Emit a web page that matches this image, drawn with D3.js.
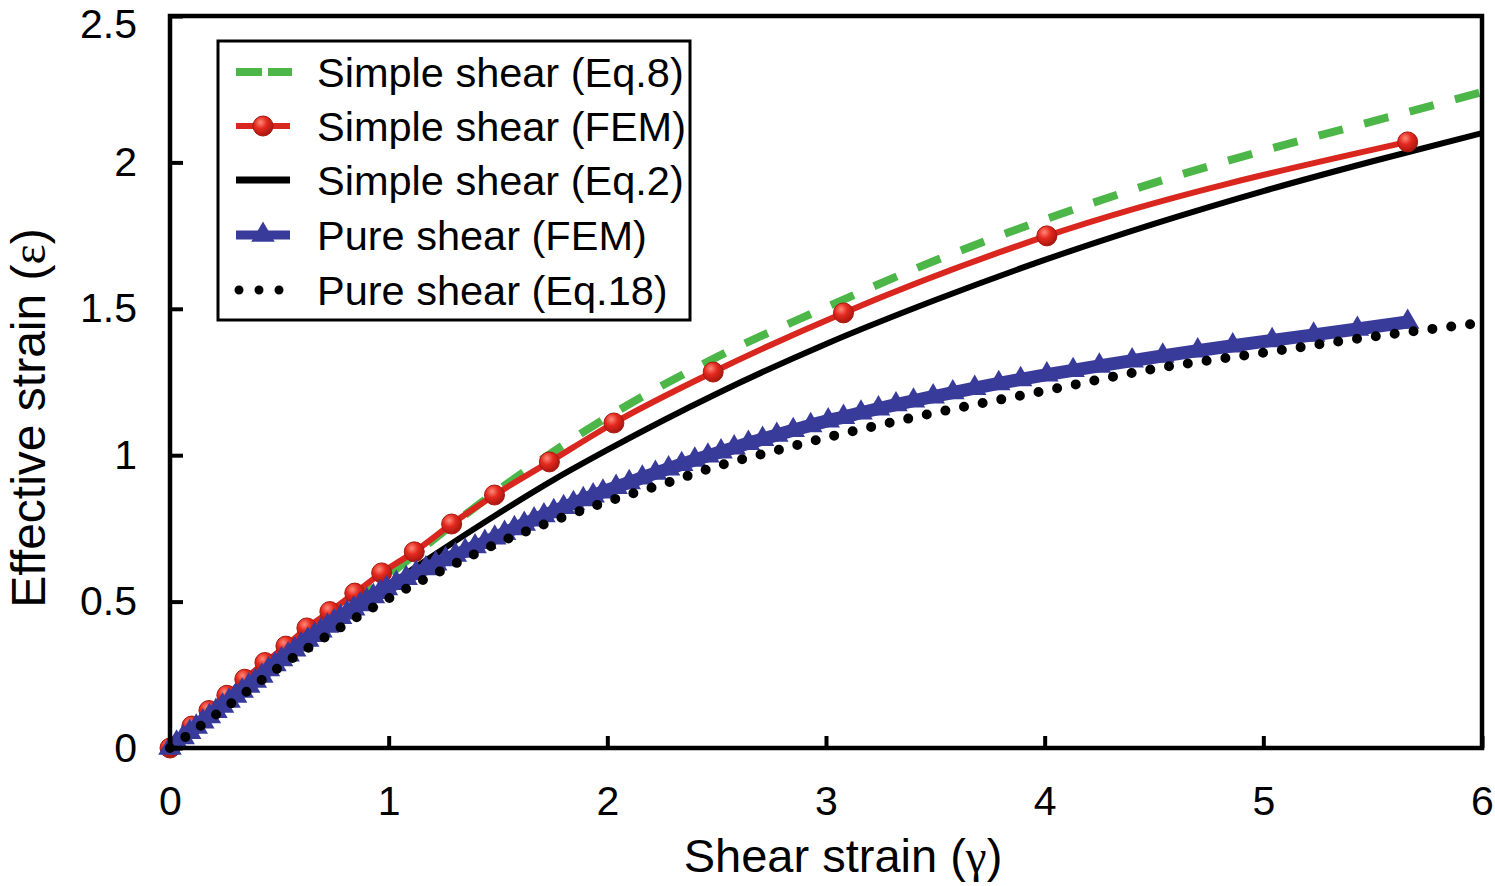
<!DOCTYPE html>
<html>
<head>
<meta charset="utf-8">
<script src="https://cdn.jsdelivr.net/npm/d3@7"></script>
<style>
  body { margin: 0; background: #fff; }
  svg { display: block; font-family: "Liberation Sans", Arial, sans-serif; }
</style>
</head>
<body>
<div id="chart"></div>
<script>
// tick values
const xTicks = [0, 1, 2, 3, 4, 5, 6]
const yTicks = [0, 0.5, 1, 1.5, 2, 2.5]

// Simple shear (Eq.8) - green dashed
const eq8X = [0, 0.5, 1, 1.5, 2, 2.5, 3, 3.5, 4, 4.5, 5, 5.5, 6]
const eq8Y = [0, 0.29, 0.59, 0.88, 1.13, 1.335, 1.505, 1.665, 1.805, 1.93, 2.04, 2.14, 2.24]

// Simple shear (FEM) - red with circles
const femSX = [0, 0.1, 0.178, 0.26, 0.342, 0.434, 0.53, 0.626, 0.731, 0.845, 0.968, 1.117, 1.288, 1.484, 1.735, 2.03, 2.484, 3.08, 4.01, 5.66]
const femSY = [0, 0.075, 0.128, 0.18, 0.235, 0.292, 0.348, 0.41, 0.466, 0.529, 0.598, 0.67, 0.765, 0.864, 0.977, 1.11, 1.284, 1.486, 1.749, 2.07]

// Simple shear (Eq.2) - black solid
const eq2X = [0, 0.25, 0.5, 0.75, 1, 1.25, 1.5, 1.75, 2, 2.5, 3, 3.5, 4, 4.5, 5, 5.5, 6]
const eq2Y = [0, 0.144, 0.286, 0.424, 0.556, 0.68, 0.8, 0.914, 1.018, 1.21, 1.38, 1.53, 1.667, 1.79, 1.902, 2.004, 2.1]

// Pure shear (FEM) - blue with triangles
const femPX = [0, 0.03, 0.06, 0.09, 0.12, 0.15, 0.18, 0.21, 0.24, 0.27, 0.3, 0.33, 0.36, 0.39, 0.42, 0.45, 0.48,
  0.51, 0.54, 0.57, 0.6, 0.63, 0.66, 0.69, 0.72, 0.75, 0.78, 0.81, 0.84, 0.87, 0.9, 0.93, 0.96, 0.99,
  1.035, 1.08, 1.125, 1.17, 1.215, 1.26, 1.305, 1.35, 1.395, 1.44, 1.485, 1.53, 1.575, 1.62, 1.665, 1.71,
  1.755, 1.8, 1.845, 1.89, 1.935, 1.98,
  2.04, 2.1, 2.16, 2.22, 2.28, 2.34, 2.4, 2.46, 2.52, 2.58, 2.645, 2.71, 2.775, 2.85, 2.93, 3.01,
  3.08, 3.16, 3.24, 3.32, 3.4, 3.49, 3.58, 3.68, 3.79, 3.89, 4.01, 4.13, 4.25, 4.4, 4.54, 4.7, 4.86,
  5.04, 5.23, 5.43, 5.66]
const femPY = [0, 0.018, 0.036, 0.054, 0.072, 0.09, 0.108, 0.126, 0.144, 0.161, 0.178, 0.195, 0.212, 0.229, 0.246, 0.268, 0.285,
  0.302, 0.319, 0.336, 0.353, 0.369, 0.385, 0.401, 0.417, 0.432, 0.447, 0.462, 0.476, 0.49, 0.504, 0.518, 0.532, 0.545,
  0.563, 0.58, 0.597, 0.613, 0.629, 0.644, 0.659, 0.673, 0.688, 0.703, 0.718, 0.734, 0.75, 0.765, 0.78, 0.794,
  0.808, 0.822, 0.836, 0.849, 0.862, 0.875,
  0.891, 0.907, 0.923, 0.939, 0.954, 0.969, 0.984, 0.998, 1.012, 1.026, 1.041, 1.055, 1.069, 1.085, 1.102, 1.118,
  1.13, 1.145, 1.159, 1.173, 1.186, 1.2, 1.214, 1.229, 1.245, 1.259, 1.275, 1.29, 1.305, 1.323, 1.339, 1.357, 1.374,
  1.392, 1.411, 1.431, 1.455]

// Pure shear (Eq.18) - black dotted
const eq18X = [0, 0.25, 0.5, 0.75, 1, 1.25, 1.5, 1.75, 2, 2.25, 2.5, 2.75, 3, 3.5, 4, 4.5, 5, 5.5, 6]
const eq18Y = [0, 0.136, 0.276, 0.398, 0.511, 0.609, 0.7, 0.775, 0.842, 0.9, 0.962, 1.012, 1.06, 1.145, 1.22, 1.295, 1.35, 1.405, 1.452]

const legendLabels = ["Simple shear (Eq.8)", "Simple shear (FEM)", "Simple shear (Eq.2)", "Pure shear (FEM)", "Pure shear (Eq.18)"]

const GREEN = "#4cb748", RED = "#d9261e", BLUE = "#393b9b"

const W = 1495, H = 886
const zip = (xs, ys) => xs.map((x, i) => [x, ys[i]])

const x = d3.scaleLinear().domain([0, 6]).range([170, 1482])
const y = d3.scaleLinear().domain([0, 2.5]).range([748, 16])

const svg = d3.select("#chart").append("svg")
  .attr("width", W)
  .attr("height", H)

const defs = svg.append("defs")
const grad = defs.append("radialGradient")
  .attr("id", "ball")
  .attr("cx", "38%").attr("cy", "32%").attr("r", "70%")
grad.append("stop").attr("offset", "0%").attr("stop-color", "#ff8a78")
grad.append("stop").attr("offset", "45%").attr("stop-color", "#e4291f")
grad.append("stop").attr("offset", "100%").attr("stop-color", "#a5150e")

const line = d3.line().x(d => x(d[0])).y(d => y(d[1])).curve(d3.curveMonotoneX)
const plot = svg.append("g")

// green dashed
plot.append("path")
  .datum(zip(eq8X, eq8Y))
  .attr("d", line)
  .attr("fill", "none")
  .attr("stroke", GREEN)
  .attr("stroke-width", 8)
  .attr("stroke-dasharray", "25 22")

// black solid
plot.append("path")
  .datum(zip(eq2X, eq2Y))
  .attr("d", line)
  .attr("fill", "none")
  .attr("stroke", "#000")
  .attr("stroke-width", 6)

// red FEM
const femS = zip(femSX, femSY)
plot.append("path")
  .datum(femS)
  .attr("d", line)
  .attr("fill", "none")
  .attr("stroke", RED)
  .attr("stroke-width", 6)

plot.selectAll(".ball")
  .data(femS)
  .enter()
  .append("circle")
  .attr("class", "ball")
  .attr("cx", d => x(d[0]))
  .attr("cy", d => y(d[1]))
  .attr("r", 10)
  .attr("fill", "url(#ball)")
  .attr("stroke", "#a8180f")
  .attr("stroke-width", 1)

// blue FEM
const femP = zip(femPX, femPY)
plot.append("path")
  .datum(femP)
  .attr("d", line)
  .attr("fill", "none")
  .attr("stroke", BLUE)
  .attr("stroke-width", 13)

const tri = d3.symbol(d3.symbolTriangle, 240)
plot.selectAll(".tri")
  .data(femP)
  .enter()
  .append("path")
  .attr("class", "tri")
  .attr("d", tri)
  .attr("transform", d => `translate(${x(d[0])},${y(d[1])})`)
  .attr("fill", BLUE)

// dotted
plot.append("path")
  .datum(zip(eq18X, eq18Y))
  .attr("d", line)
  .attr("fill", "none")
  .attr("stroke", "#000")
  .attr("stroke-width", 10)
  .attr("stroke-linecap", "round")
  .attr("stroke-dasharray", "0 19")

// frame
svg.append("rect")
  .attr("x", x(0)).attr("y", y(2.5))
  .attr("width", x(6) - x(0))
  .attr("height", y(0) - y(2.5))
  .attr("fill", "none")
  .attr("stroke", "#000")
  .attr("stroke-width", 4.5)

// axes, ticks pointing inward
const xAxis = svg.append("g")
  .attr("transform", `translate(0,${y(0)})`)
  .call(d3.axisBottom(x).tickValues(xTicks).tickFormat(d3.format("d"))
    .tickSizeInner(-12).tickSizeOuter(0).tickPadding(38))
const yAxis = svg.append("g")
  .attr("transform", `translate(${x(0)},0)`)
  .call(d3.axisLeft(y).tickValues(yTicks).tickFormat(d => String(d))
    .tickSizeInner(-13).tickSizeOuter(0).tickPadding(33))

for (const ax of [xAxis, yAxis]) {
  ax.select(".domain").remove()
  ax.selectAll(".tick line").attr("stroke", "#000").attr("stroke-width", 4)
  ax.selectAll(".tick text")
    .attr("fill", "#000")
    .style("font-size", "41px")
    .style("font-family", "'Liberation Sans', Arial, sans-serif")
}
// top label sits a little lower so it stays inside the page
yAxis.selectAll(".tick text").filter(d => d === 2.5).attr("dy", "0.52em")

// axis titles, greek letters in a serif face
const xTitle = svg.append("text")
  .attr("x", 843)
  .attr("y", 872)
  .attr("text-anchor", "middle")
  .style("font-size", "47px")
xTitle.append("tspan").text("Shear strain (")
xTitle.append("tspan").style("font-family", "'Liberation Serif', serif").text("γ")
xTitle.append("tspan").text(")")

const yTitle = svg.append("text")
  .attr("transform", "rotate(-90)")
  .attr("x", -418)
  .attr("y", 45)
  .attr("text-anchor", "middle")
  .style("font-size", "48px")
yTitle.append("tspan").text("Effective strain (")
yTitle.append("tspan").style("font-family", "'Liberation Serif', serif").text("ε")
yTitle.append("tspan").text(")")

// legend
const lg = svg.append("g")
lg.append("rect")
  .attr("x", 218).attr("y", 41)
  .attr("width", 472).attr("height", 279)
  .attr("fill", "#fff")
  .attr("stroke", "#000")
  .attr("stroke-width", 3)

const rowY = [72, 126, 180, 235, 290]
const sx0 = 236, sx1 = 292, smid = 264

lg.selectAll(".lab")
  .data(legendLabels)
  .enter()
  .append("text")
  .attr("class", "lab")
  .attr("x", 317)
  .attr("y", (d, i) => rowY[i] + 15)
  .style("font-size", "41.5px")
  .text(d => d)

lg.append("line")
  .attr("x1", sx0).attr("x2", sx1).attr("y1", rowY[0]).attr("y2", rowY[0])
  .attr("stroke", GREEN).attr("stroke-width", 8).attr("stroke-dasharray", "26 6")

lg.append("line")
  .attr("x1", sx0).attr("x2", sx1 - 2).attr("y1", rowY[1]).attr("y2", rowY[1])
  .attr("stroke", RED).attr("stroke-width", 6)
lg.append("circle")
  .attr("cx", smid - 1).attr("cy", rowY[1]).attr("r", 10)
  .attr("fill", "url(#ball)").attr("stroke", "#a8180f").attr("stroke-width", 1)

lg.append("line")
  .attr("x1", sx0).attr("x2", sx1 - 2).attr("y1", rowY[2]).attr("y2", rowY[2])
  .attr("stroke", "#000").attr("stroke-width", 7)

lg.append("line")
  .attr("x1", sx0).attr("x2", sx1 - 2).attr("y1", rowY[3]).attr("y2", rowY[3])
  .attr("stroke", BLUE).attr("stroke-width", 9)
lg.append("path")
  .attr("d", tri)
  .attr("transform", `translate(${smid - 1},${rowY[3]})`)
  .attr("fill", BLUE)

lg.append("line")
  .attr("x1", 239).attr("x2", 280).attr("y1", rowY[4]).attr("y2", rowY[4])
  .attr("stroke", "#000").attr("stroke-width", 9)
  .attr("stroke-linecap", "round").attr("stroke-dasharray", "0 20")
</script>
</body>
</html>
